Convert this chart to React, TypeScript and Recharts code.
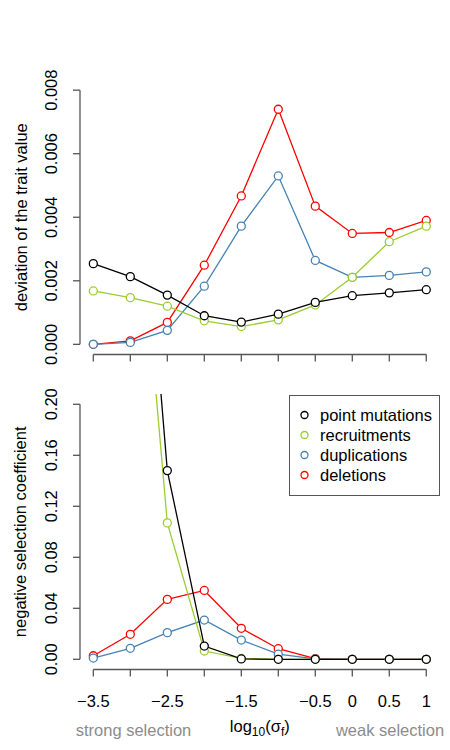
import { LineChart, Line, XAxis, YAxis, ReferenceLine } from "recharts";

const xVals = [-3.5, -3, -2.5, -2, -1.5, -1, -0.5, 0, 0.5, 1];
const xTicks = [-3.5, -3, -2.5, -2, -1.5, -1, -0.5, 0, 0.5, 1];
const xTickLabels = ["−3.5", "", "−2.5", "", "−1.5", "", "−0.5", "0", "0.5", "1"];

// top panel: deviation of the trait value
const devPoint = [0.00254, 0.00213, 0.00155, 0.0009, 0.0007, 0.00095, 0.00132, 0.00153, 0.00162, 0.00172];
const devRecruit = [0.00168, 0.00147, 0.0012, 0.00074, 0.00056, 0.00077, 0.00124, 0.00211, 0.00323, 0.00372];
const devDup = [0.0, 0.00006, 0.00044, 0.00183, 0.00372, 0.0053, 0.00264, 0.00211, 0.00217, 0.00228];
const devDel = [0.0, 0.00011, 0.00069, 0.00249, 0.00467, 0.0074, 0.00435, 0.00349, 0.00352, 0.0039];
const devTicks = [0, 0.002, 0.004, 0.006, 0.008];

// bottom panel: negative selection coefficient
const selPoint = [0.8, 0.5, 0.148, 0.0104, 0.0003, 0, 0, 0, 0, 0];
const selRecruit = [0.7, 0.44, 0.107, 0.0065, 0.0008, 0, 0, 0, 0, 0];
const selDup = [0.001, 0.0086, 0.0209, 0.0308, 0.0151, 0.004, 0.0003, 0, 0, 0];
const selDel = [0.0028, 0.0196, 0.047, 0.054, 0.0243, 0.0083, 0.0005, 0, 0, 0];
const selTicks = [0, 0.04, 0.08, 0.12, 0.16, 0.2];

const seriesNames = ["point mutations", "recruitments", "duplications", "deletions"];
const seriesKeys = ["point", "recruit", "dup", "del"];
const seriesColors = ["#000000", "#9acd32", "#4682b4", "#ff0000"];
const drawOrder = [3, 2, 1, 0];

const FONT = "'Liberation Sans', Arial, Helvetica, sans-serif";
const AXIS = "#555555";
const xDomain = [-3.68, 1.18];
const devDomain = [-0.00032, 0.00832];
const selDomain = [-0.008, 0.208];

const topData = xVals.map((x, i) => ({
  x, point: devPoint[i], recruit: devRecruit[i], dup: devDup[i], del: devDel[i],
}));
const bottomData = xVals.map((x, i) => ({
  x, point: selPoint[i], recruit: selRecruit[i], dup: selDup[i], del: selDel[i],
}));

function YTick({ y, payload, digits }: any) {
  return (
    <text x={57} y={y} transform={`rotate(-90, 57, ${y})`} textAnchor="middle"
      fontSize={16.5} fill="#000" fontFamily={FONT}>
      {payload.value.toFixed(digits)}
    </text>
  );
}

function XTick({ x, y, payload, index }: any) {
  const lbl = xTickLabels[index ?? xTicks.indexOf(payload.value)];
  return (
    <text x={x} y={y + 30} textAnchor="middle" fontSize={16.5} fill="#000" fontFamily={FONT}>
      {lbl}
    </text>
  );
}

function YTitle({ viewBox, text }: any) {
  const cy = viewBox.y + viewBox.height / 2;
  return (
    <text x={26.5} y={cy} transform={`rotate(-90, 26.5, ${cy})`} textAnchor="middle"
      fontSize={16.5} fill="#000" fontFamily={FONT}>
      {text}
    </text>
  );
}

function XTitle({ viewBox }: any) {
  const cx = viewBox.x + viewBox.width / 2;
  const base = viewBox.y + 62;
  return (
    <g fontFamily={FONT} fontSize={16.5}>
      <text x={cx} y={base} textAnchor="middle" fill="#000">
        log<tspan fontSize={12} dy={4}>10</tspan>
        <tspan dy={-4}>(σ</tspan>
        <tspan fontSize={12} dy={4}>f</tspan>
        <tspan dy={-4}>)</tspan>
      </text>
      <text x={133.5} y={base + 4} textAnchor="middle" fill="#8c8c8c">strong selection</text>
      <text x={390} y={base + 4} textAnchor="middle" fill="#8c8c8c">weak selection</text>
    </g>
  );
}

function seriesLines() {
  return drawOrder.map((i) => (
    <Line
      key={seriesKeys[i]}
      type="linear"
      dataKey={seriesKeys[i]}
      name={seriesNames[i]}
      stroke={seriesColors[i]}
      strokeWidth={1.3}
      dot={{ r: 4, fill: "#fff", stroke: seriesColors[i], strokeWidth: 1.3 }}
      activeDot={false}
      isAnimationActive={false}
    />
  ));
}

function Legenda() {
  return (
    <div style={{
      position: "absolute", left: 289, top: 395, width: 151, height: 101,
      border: `1px solid ${AXIS}`, boxSizing: "border-box", background: "#fff",
    }}>
      <svg width={149} height={99} style={{ display: "block" }}>
        {seriesNames.map((n, i) => (
          <g key={n}>
            <circle cx={14.5} cy={19 + i * 20} r={3.5} fill="none" stroke={seriesColors[i]} strokeWidth={1.3} />
            <text x={30} y={25 + i * 20} fontSize={16.5} fill="#000" fontFamily={FONT}>{n}</text>
          </g>
        ))}
      </svg>
    </div>
  );
}

export default function App() {
  return (
    <div style={{ position: "absolute", left: 0, top: 0, width: 450, height: 750, background: "#fff", fontFamily: FONT }}>
      <div style={{ position: "absolute", left: 0, top: 0 }}>
        <LineChart width={450} height={380} data={topData} margin={{ top: 80, right: 10.4, left: 0, bottom: 0 }}>
          <XAxis type="number" dataKey="x" domain={xDomain} ticks={xTicks} interval={0} allowDataOverflow
            height={25.5} axisLine={false} tickSize={7} tickLine={{ stroke: AXIS, strokeWidth: 1.3 }}
            tick={() => <g />} />
          <YAxis type="number" domain={devDomain} ticks={devTicks} interval={0} allowDataOverflow
            width={80} axisLine={false} tickSize={7} tickLine={{ stroke: AXIS, strokeWidth: 1.3 }}
            tick={<YTick digits={3} />}
            label={{ content: (p: any) => <YTitle {...p} text="deviation of the trait value" /> }} />
          <ReferenceLine ifOverflow="visible" stroke={AXIS} strokeWidth={1.3}
            segment={[{ x: -3.5, y: devDomain[0] }, { x: 1, y: devDomain[0] }]} />
          <ReferenceLine ifOverflow="visible" stroke={AXIS} strokeWidth={1.3}
            segment={[{ x: xDomain[0], y: 0 }, { x: xDomain[0], y: 0.008 }]} />
          {seriesLines()}
        </LineChart>
      </div>
      <div style={{ position: "absolute", left: 0, top: 380 }}>
        <LineChart width={450} height={370} data={bottomData} margin={{ top: 14.1, right: 10.4, left: 0, bottom: 0 }}>
          <XAxis type="number" dataKey="x" domain={xDomain} ticks={xTicks} interval={0} allowDataOverflow
            height={80.5} axisLine={false} tickSize={7} tickMargin={0} tickLine={{ stroke: AXIS, strokeWidth: 1.3 }}
            tick={<XTick />}
            label={{ content: (p: any) => <XTitle {...p} /> }} />
          <YAxis type="number" domain={selDomain} ticks={selTicks} interval={0} allowDataOverflow
            width={80} axisLine={false} tickSize={7} tickLine={{ stroke: AXIS, strokeWidth: 1.3 }}
            tick={<YTick digits={2} />}
            label={{ content: (p: any) => <YTitle {...p} text="negative selection coefficient" /> }} />
          <ReferenceLine ifOverflow="visible" stroke={AXIS} strokeWidth={1.3}
            segment={[{ x: -3.5, y: selDomain[0] }, { x: 1, y: selDomain[0] }]} />
          <ReferenceLine ifOverflow="visible" stroke={AXIS} strokeWidth={1.3}
            segment={[{ x: xDomain[0], y: 0 }, { x: xDomain[0], y: 0.2 }]} />
          {seriesLines()}
        </LineChart>
      </div>
      <Legenda />
    </div>
  );
}
